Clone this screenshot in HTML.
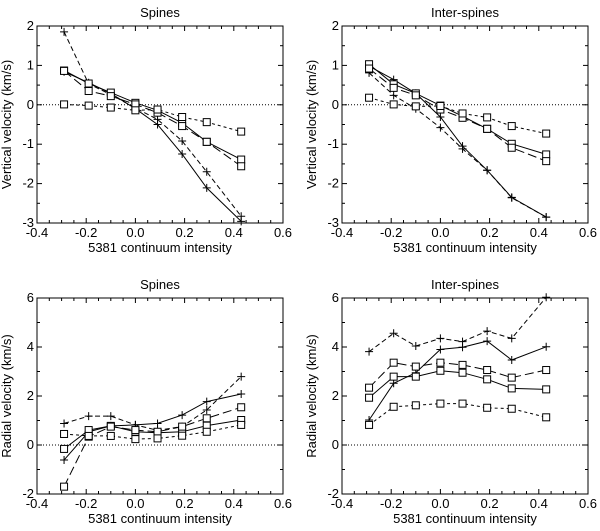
<!DOCTYPE html>
<html><head><meta charset="utf-8"><style>
body{margin:0;background:#fff;}
svg{display:block;font-family:"Liberation Sans",Arial,sans-serif;}
</style></head><body>
<svg id="c" width="600" height="531" viewBox="0 0 600 531"></svg>
<script>
const xVals=[-0.29,-0.19,-0.10,0.0,0.09,0.19,0.29,0.43];
const xTicks=[-0.4,-0.2,0.0,0.2,0.4,0.6];
const topTicks=[-3,-2,-1,0,1,2];
const botTicks=[-2,0,2,4,6];
const styles={A:'dash',B:'solid',C:'long',D:'solid',E:'short'};
// top-left spines vertical
const tlPlusDash=[1.85,0.53,0.26,-0.08,-0.37,-0.92,-1.70,-2.83];
const tlPlusSolid=[0.84,0.56,0.29,-0.10,-0.50,-1.25,-2.11,-2.96];
const tlSqSolid=[0.87,0.54,0.31,0.05,-0.14,-0.46,-0.94,-1.39];
const tlSqLong=[0.86,0.35,0.22,0.01,-0.2,-0.54,-0.94,-1.56];
const tlSqShort=[0.01,-0.02,-0.07,-0.14,-0.12,-0.31,-0.44,-0.68];
// top-right inter-spines vertical
const trPlusSolid=[0.98,0.64,0.29,-0.31,-1.05,-1.66,-2.35,-2.85];
const trPlusDash=[0.81,0.24,-0.1,-0.58,-1.12,-1.66,-2.36,-2.85];
const trSqSolid=[1.03,0.52,0.29,-0.02,-0.29,-0.61,-0.99,-1.26];
const trSqLong=[0.92,0.43,0.24,-0.12,-0.33,-0.61,-1.09,-1.43];
const trSqShort=[0.18,0.01,-0.04,-0.03,-0.22,-0.32,-0.54,-0.73];
// bottom-left spines radial
const blPlusDash=[0.88,1.18,1.18,0.82,0.6,0.75,1.43,2.79];
const blPlusSolid=[-0.61,0.54,0.78,0.82,0.88,1.22,1.77,2.08];
const blSqLong=[-1.7,0.34,0.75,0.61,0.54,0.75,1.09,1.54];
const blSqSolid=[-0.16,0.61,0.78,0.54,0.5,0.54,0.79,1.02];
const blSqShort=[0.45,0.37,0.37,0.24,0.27,0.38,0.54,0.82];
// bottom-right inter-spines radial
const brPlusDash=[3.81,4.56,4.04,4.35,4.22,4.65,4.35,6.03];
const brPlusSolid=[1.02,2.52,2.95,3.9,3.99,4.24,3.47,4.01];
const brSqLong=[2.34,3.36,3.2,3.36,3.27,3.06,2.75,3.06];
const brSqSolid=[1.93,2.79,2.79,3.03,2.95,2.68,2.31,2.27];
const brSqShort=[0.82,1.56,1.62,1.69,1.69,1.52,1.48,1.13];

const svg=document.getElementById('c');
const NS='http://www.w3.org/2000/svg';
function mk(tag,attrs,parent){const e=document.createElementNS(NS,tag);for(const k in attrs)e.setAttribute(k,attrs[k]);(parent||svg).appendChild(e);return e;}
const dashMap={solid:'',dash:'5,3',long:'9,4',short:'3,3'};

function panel(id,x0,x1,y0,y1,ymin,ymax,yt,minorY,title,ytitle,series){
  const g=mk('g',{});
  
  
  const sx=v=>x0+(v+0.4)/1.0*(x1-x0);
  const sy=v=>y1-(v-ymin)/(ymax-ymin)*(y1-y0);
  const t=mk('text',{x:(x0+x1)/2,y:y0-9,'text-anchor':'middle','font-size':13},g);t.textContent=title;
  
  const yl=mk('text',{x:0,y:0,'text-anchor':'middle','font-size':13,transform:`translate(${x0-26},${(y0+y1)/2}) rotate(-90)`},g);yl.textContent=ytitle;
  
  const xl=mk('text',{x:(x0+x1)/2,y:y1+29,'text-anchor':'middle','font-size':13},g);xl.textContent='5381 continuum intensity';
  
  // zero line
  const z=mk('line',{x1:x0,x2:x1,y1:sy(0),y2:sy(0),stroke:'#000','stroke-width':1,'stroke-dasharray':'1,2'},g);
  
  // x ticks
  for(let v=-0.4;v<=0.601;v+=0.05){const px=sx(v);const major=Math.abs(Math.round(v*10)-v*10)<0.01&&Math.round(v*10)%2===0;const len=major?5:3;
    mk('line',{x1:px,x2:px,y1:y1,y2:y1-len,stroke:'#000'},g);mk('line',{x1:px,x2:px,y1:y0,y2:y0+len,stroke:'#000'},g);}
  xTicks.forEach(v=>{const tx=mk('text',{x:sx(v),y:y1+14,'text-anchor':'middle','font-size':13},g);tx.textContent=v.toFixed(1);
    });
  for(let v=ymin;v<=ymax+1e-6;v+=minorY){const py=sy(v);const major=yt.some(k=>Math.abs(k-v)<1e-6);const len=major?5:3;
    mk('line',{x1:x0,x2:x0+len,y1:py,y2:py,stroke:'#000'},g);mk('line',{x1:x1,x2:x1-len,y1:py,y2:py,stroke:'#000'},g);}
  yt.forEach(v=>{const tx=mk('text',{x:x0-3,y:sy(v)+4,'text-anchor':'end','font-size':13},g);tx.textContent=v;
    });
  mk('rect',{x:x0,y:y0,width:x1-x0,height:y1-y0,fill:'none',stroke:'#000','stroke-width':1},g);
  series.forEach(s=>{
    const sg=mk('g',{},g);
    
    
    const pts=xVals.map((x,i)=>sx(x).toFixed(1)+','+sy(s.v[i]).toFixed(1)).join(' ');
    mk('polyline',{points:pts,fill:'none',stroke:'#000','stroke-width':1,'stroke-dasharray':dashMap[s.ls]},sg);
    xVals.forEach((x,i)=>{const px=sx(x),py=sy(s.v[i]);
      if(s.m==='sq'){const r=mk('rect',{x:px-3.5,y:py-3.5,width:7,height:7,fill:'#fff',stroke:'#000'},sg);}
      else{const p=mk('path',{d:`M${px-4},${py}H${px+4}M${px},${py-4}V${py+4}`,stroke:'#000','stroke-width':1},sg);}
    });
  });
}
panel('spines-vertical',37,283,26,223,-3,2,topTicks,0.5,'Spines','Vertical velocity (km/s)',[
 {name:'plus-dash',v:tlPlusDash,m:'plus',ls:'dash'},{name:'plus-solid',v:tlPlusSolid,m:'plus',ls:'solid'},
 {name:'sq-solid',v:tlSqSolid,m:'sq',ls:'solid'},{name:'sq-long',v:tlSqLong,m:'sq',ls:'long'},{name:'sq-short',v:tlSqShort,m:'sq',ls:'short'}]);
panel('interspines-vertical',342,588,26,223,-3,2,topTicks,0.5,'Inter-spines','Vertical velocity (km/s)',[
 {name:'plus-dash',v:trPlusDash,m:'plus',ls:'dash'},{name:'plus-solid',v:trPlusSolid,m:'plus',ls:'solid'},
 {name:'sq-solid',v:trSqSolid,m:'sq',ls:'solid'},{name:'sq-long',v:trSqLong,m:'sq',ls:'long'},{name:'sq-short',v:trSqShort,m:'sq',ls:'short'}]);
panel('spines-radial',37,283,298,494,-2,6,botTicks,1,'Spines','Radial velocity (km/s)',[
 {name:'plus-dash',v:blPlusDash,m:'plus',ls:'dash'},{name:'plus-solid',v:blPlusSolid,m:'plus',ls:'solid'},
 {name:'sq-solid',v:blSqSolid,m:'sq',ls:'solid'},{name:'sq-long',v:blSqLong,m:'sq',ls:'long'},{name:'sq-short',v:blSqShort,m:'sq',ls:'short'}]);
panel('interspines-radial',342,588,298,494,-2,6,botTicks,1,'Inter-spines','Radial velocity (km/s)',[
 {name:'plus-dash',v:brPlusDash,m:'plus',ls:'dash'},{name:'plus-solid',v:brPlusSolid,m:'plus',ls:'solid'},
 {name:'sq-solid',v:brSqSolid,m:'sq',ls:'solid'},{name:'sq-long',v:brSqLong,m:'sq',ls:'long'},{name:'sq-short',v:brSqShort,m:'sq',ls:'short'}]);
</script>
</body></html>
